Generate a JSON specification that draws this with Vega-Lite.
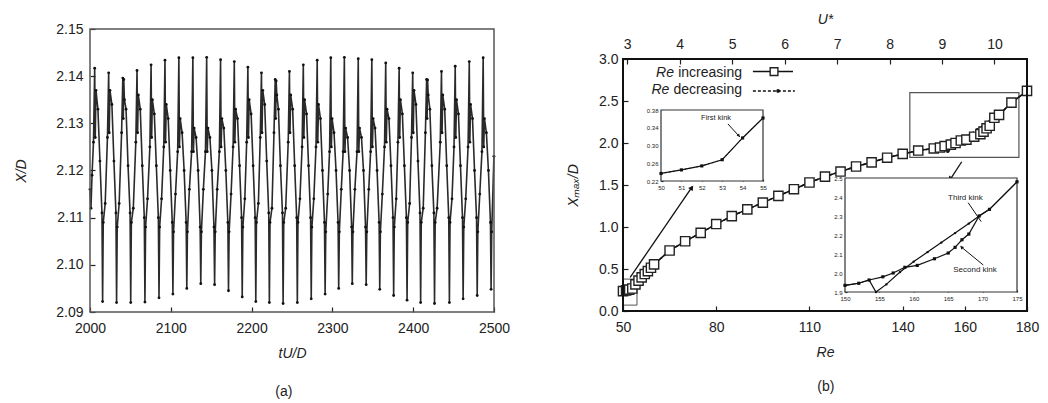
{
"$schema":"https://vega.github.io/schema/vega-lite/v6.json",
"width":1048,"height":403,"autosize":{"type":"none"},"padding":0,
"background":"white",
"config":{"view":{"stroke":null},"font":"Liberation Sans",
"axis":{"grid":false,"domain":false,"tickColor":"#222","labelColor":"#222","titleColor":"#222","labelFont":"Liberation Sans","titleFont":"Liberation Sans","labelFontSize":14,"titleFontSize":14,"titleFontWeight":"normal","tickWidth":1.2,"tickSize":-5,"labelFlush":false,"labelOverlap":false},
"text":{"font":"Liberation Sans","color":"#222"}},
"data":{"values":[{}]},
"datasets":{
"ts":[
{"t":2000.0,"x":2.116},{"t":2001.2,"x":2.112},{"t":2002.5,"x":2.119},{"t":2004.3,"x":2.126},
{"t":2005.8,"x":2.1417},{"t":2006.5,"x":2.127},{"t":2007.4,"x":2.137},{"t":2009.8,"x":2.133},{"t":2012.3,"x":2.122},{"t":2014.8,"x":2.111},{"t":2015.6,"x":2.0922},{"t":2016.4,"x":2.109},{"t":2018.8,"x":2.113},
{"t":2021.6,"x":2.127},{"t":2023.1,"x":2.1407},{"t":2023.8,"x":2.128},{"t":2024.7,"x":2.137},{"t":2027.1,"x":2.134},{"t":2029.6,"x":2.122},{"t":2032.1,"x":2.111},{"t":2032.9,"x":2.0920},{"t":2033.7,"x":2.108},{"t":2036.1,"x":2.113},
{"t":2039.1,"x":2.128},{"t":2040.6,"x":2.1396},{"t":2041.2,"x":2.131},{"t":2041.8,"x":2.1393},{"t":2042.6,"x":2.135},{"t":2044.6,"x":2.133},{"t":2047.1,"x":2.121},{"t":2049.6,"x":2.111},{"t":2050.4,"x":2.0920},{"t":2051.2,"x":2.109},{"t":2053.6,"x":2.112},
{"t":2056.7,"x":2.126},{"t":2058.2,"x":2.1412},{"t":2058.9,"x":2.128},{"t":2059.8,"x":2.136},{"t":2062.2,"x":2.133},{"t":2064.7,"x":2.121},{"t":2067.2,"x":2.110},{"t":2068.0,"x":2.0921},{"t":2068.8,"x":2.108},{"t":2071.2,"x":2.114},
{"t":2074.1,"x":2.125},{"t":2075.6,"x":2.1424},{"t":2076.3,"x":2.127},{"t":2077.2,"x":2.135},{"t":2079.6,"x":2.132},{"t":2082.1,"x":2.121},{"t":2084.6,"x":2.110},{"t":2085.4,"x":2.0930},{"t":2086.2,"x":2.108},{"t":2088.6,"x":2.114},
{"t":2091.3,"x":2.125},{"t":2092.8,"x":2.1434},{"t":2093.5,"x":2.126},{"t":2094.4,"x":2.134},{"t":2096.8,"x":2.131},{"t":2099.3,"x":2.120},{"t":2101.8,"x":2.109},{"t":2102.6,"x":2.0938},{"t":2103.4,"x":2.107},{"t":2105.8,"x":2.115},
{"t":2108.5,"x":2.124},{"t":2110.0,"x":2.1439},{"t":2110.7,"x":2.125},{"t":2111.6,"x":2.131},{"t":2114.0,"x":2.128},{"t":2116.5,"x":2.120},{"t":2119.0,"x":2.109},{"t":2119.8,"x":2.0950},{"t":2120.6,"x":2.107},{"t":2123.0,"x":2.116},
{"t":2125.8,"x":2.124},{"t":2127.3,"x":2.1439},{"t":2128.0,"x":2.124},{"t":2128.9,"x":2.129},{"t":2131.3,"x":2.127},{"t":2133.8,"x":2.120},{"t":2136.3,"x":2.108},{"t":2137.1,"x":2.0960},{"t":2137.9,"x":2.107},{"t":2140.3,"x":2.116},
{"t":2142.9,"x":2.124},{"t":2144.4,"x":2.1440},{"t":2145.1,"x":2.124},{"t":2146.0,"x":2.129},{"t":2148.4,"x":2.127},{"t":2150.9,"x":2.120},{"t":2153.4,"x":2.108},{"t":2154.2,"x":2.0958},{"t":2155.0,"x":2.107},{"t":2157.4,"x":2.116},
{"t":2160.1,"x":2.124},{"t":2161.6,"x":2.1435},{"t":2162.3,"x":2.125},{"t":2163.2,"x":2.131},{"t":2165.6,"x":2.129},{"t":2168.1,"x":2.120},{"t":2170.6,"x":2.109},{"t":2171.4,"x":2.0945},{"t":2172.2,"x":2.107},{"t":2174.6,"x":2.115},
{"t":2177.1,"x":2.125},{"t":2178.6,"x":2.1431},{"t":2179.3,"x":2.126},{"t":2180.2,"x":2.133},{"t":2182.6,"x":2.131},{"t":2185.1,"x":2.121},{"t":2187.6,"x":2.110},{"t":2188.4,"x":2.0932},{"t":2189.2,"x":2.108},{"t":2191.6,"x":2.114},
{"t":2193.9,"x":2.126},{"t":2195.4,"x":2.1419},{"t":2196.1,"x":2.127},{"t":2197.0,"x":2.135},{"t":2199.4,"x":2.132},{"t":2201.9,"x":2.121},{"t":2204.4,"x":2.110},{"t":2205.2,"x":2.0922},{"t":2206.0,"x":2.109},{"t":2208.4,"x":2.113},
{"t":2210.7,"x":2.127},{"t":2212.2,"x":2.1407},{"t":2212.9,"x":2.128},{"t":2213.8,"x":2.137},{"t":2216.2,"x":2.134},{"t":2218.7,"x":2.122},{"t":2221.2,"x":2.111},{"t":2222.0,"x":2.0920},{"t":2222.8,"x":2.109},{"t":2225.2,"x":2.112},
{"t":2227.7,"x":2.128},{"t":2229.2,"x":2.1393},{"t":2229.8,"x":2.131},{"t":2230.4,"x":2.1390},{"t":2231.2,"x":2.136},{"t":2233.2,"x":2.133},{"t":2235.7,"x":2.121},{"t":2238.2,"x":2.111},{"t":2239.0,"x":2.0918},{"t":2239.8,"x":2.109},{"t":2242.2,"x":2.112},
{"t":2245.3,"x":2.126},{"t":2246.8,"x":2.1410},{"t":2247.5,"x":2.128},{"t":2248.4,"x":2.136},{"t":2250.8,"x":2.133},{"t":2253.3,"x":2.121},{"t":2255.8,"x":2.110},{"t":2256.6,"x":2.0920},{"t":2257.4,"x":2.109},{"t":2259.8,"x":2.114},
{"t":2262.5,"x":2.125},{"t":2264.0,"x":2.1424},{"t":2264.7,"x":2.127},{"t":2265.6,"x":2.135},{"t":2268.0,"x":2.132},{"t":2270.5,"x":2.121},{"t":2273.0,"x":2.110},{"t":2273.8,"x":2.0928},{"t":2274.6,"x":2.108},{"t":2277.0,"x":2.114},
{"t":2279.7,"x":2.125},{"t":2281.2,"x":2.1434},{"t":2281.9,"x":2.126},{"t":2282.8,"x":2.134},{"t":2285.2,"x":2.131},{"t":2287.7,"x":2.120},{"t":2290.2,"x":2.109},{"t":2291.0,"x":2.0938},{"t":2291.8,"x":2.107},{"t":2294.2,"x":2.115},
{"t":2296.5,"x":2.124},{"t":2298.0,"x":2.1439},{"t":2298.7,"x":2.125},{"t":2299.6,"x":2.131},{"t":2302.0,"x":2.128},{"t":2304.5,"x":2.120},{"t":2307.0,"x":2.109},{"t":2307.8,"x":2.0950},{"t":2308.6,"x":2.107},{"t":2311.0,"x":2.116},
{"t":2313.3,"x":2.124},{"t":2314.8,"x":2.1440},{"t":2315.5,"x":2.124},{"t":2316.4,"x":2.129},{"t":2318.8,"x":2.127},{"t":2321.3,"x":2.120},{"t":2323.8,"x":2.108},{"t":2324.6,"x":2.0960},{"t":2325.4,"x":2.107},{"t":2327.8,"x":2.116},
{"t":2330.5,"x":2.124},{"t":2332.0,"x":2.1437},{"t":2332.7,"x":2.124},{"t":2333.6,"x":2.129},{"t":2336.0,"x":2.127},{"t":2338.5,"x":2.120},{"t":2341.0,"x":2.108},{"t":2341.8,"x":2.0958},{"t":2342.6,"x":2.107},{"t":2345.0,"x":2.116},
{"t":2347.3,"x":2.124},{"t":2348.8,"x":2.1435},{"t":2349.5,"x":2.125},{"t":2350.4,"x":2.131},{"t":2352.8,"x":2.129},{"t":2355.3,"x":2.120},{"t":2357.8,"x":2.109},{"t":2358.6,"x":2.0948},{"t":2359.4,"x":2.107},{"t":2361.8,"x":2.115},
{"t":2364.5,"x":2.125},{"t":2366.0,"x":2.1428},{"t":2366.7,"x":2.126},{"t":2367.6,"x":2.133},{"t":2370.0,"x":2.131},{"t":2372.5,"x":2.121},{"t":2375.0,"x":2.110},{"t":2375.8,"x":2.0935},{"t":2376.6,"x":2.108},{"t":2379.0,"x":2.114},
{"t":2381.1,"x":2.126},{"t":2382.6,"x":2.1417},{"t":2383.3,"x":2.127},{"t":2384.2,"x":2.135},{"t":2386.6,"x":2.132},{"t":2389.1,"x":2.121},{"t":2391.6,"x":2.110},{"t":2392.4,"x":2.0925},{"t":2393.2,"x":2.109},{"t":2395.6,"x":2.113},
{"t":2397.9,"x":2.127},{"t":2399.4,"x":2.1407},{"t":2400.1,"x":2.128},{"t":2401.0,"x":2.137},{"t":2403.4,"x":2.134},{"t":2405.9,"x":2.122},{"t":2408.4,"x":2.111},{"t":2409.2,"x":2.0920},{"t":2410.0,"x":2.109},{"t":2412.4,"x":2.112},
{"t":2415.1,"x":2.128},{"t":2416.6,"x":2.1393},{"t":2417.2,"x":2.131},{"t":2417.8,"x":2.1392},{"t":2418.6,"x":2.136},{"t":2420.6,"x":2.133},{"t":2423.1,"x":2.121},{"t":2425.6,"x":2.111},{"t":2426.4,"x":2.0918},{"t":2427.2,"x":2.109},{"t":2429.6,"x":2.112},
{"t":2433.5,"x":2.126},{"t":2435.0,"x":2.1410},{"t":2435.7,"x":2.128},{"t":2436.6,"x":2.136},{"t":2439.0,"x":2.133},{"t":2441.5,"x":2.121},{"t":2444.0,"x":2.110},{"t":2444.8,"x":2.0920},{"t":2445.6,"x":2.109},{"t":2448.0,"x":2.114},
{"t":2450.5,"x":2.125},{"t":2452.0,"x":2.1421},{"t":2452.7,"x":2.127},{"t":2453.6,"x":2.135},{"t":2456.0,"x":2.132},{"t":2458.5,"x":2.121},{"t":2461.0,"x":2.110},{"t":2461.8,"x":2.0928},{"t":2462.6,"x":2.108},{"t":2465.0,"x":2.114},
{"t":2467.9,"x":2.125},{"t":2469.4,"x":2.1431},{"t":2470.1,"x":2.126},{"t":2471.0,"x":2.134},{"t":2473.4,"x":2.131},{"t":2475.9,"x":2.120},{"t":2478.4,"x":2.110},{"t":2479.2,"x":2.0935},{"t":2480.0,"x":2.107},{"t":2482.4,"x":2.115},
{"t":2485.1,"x":2.124},{"t":2486.6,"x":2.1439},{"t":2487.3,"x":2.125},{"t":2488.2,"x":2.131},{"t":2490.6,"x":2.128},{"t":2493.1,"x":2.120},{"t":2495.6,"x":2.109},{"t":2496.4,"x":2.0948},{"t":2497.2,"x":2.107},{"t":2499.9,"x":2.123}
],
"inc":[
{"Re":50,"X":0.237},{"Re":51,"X":0.245},{"Re":52,"X":0.254},{"Re":53,"X":0.268},{"Re":54,"X":0.317},{"Re":55,"X":0.362},{"Re":56,"X":0.40},{"Re":57,"X":0.44},{"Re":58,"X":0.475},{"Re":59,"X":0.515},{"Re":60,"X":0.555},
{"Re":65,"X":0.72},{"Re":70,"X":0.83},{"Re":75,"X":0.93},{"Re":80,"X":1.035},{"Re":85,"X":1.13},{"Re":90,"X":1.21},{"Re":95,"X":1.29},{"Re":100,"X":1.37},{"Re":105,"X":1.45},{"Re":110,"X":1.53},{"Re":115,"X":1.6},{"Re":120,"X":1.66},{"Re":125,"X":1.72},{"Re":130,"X":1.77},{"Re":135,"X":1.825},{"Re":140,"X":1.87},{"Re":145,"X":1.91},{"Re":150,"X":1.935},{"Re":152,"X":1.946},
{"Re":153.5,"X":1.963},{"Re":155.5,"X":1.98},{"Re":157,"X":2.0},{"Re":158.7,"X":2.03},{"Re":160.5,"X":2.04},{"Re":163,"X":2.075},{"Re":165,"X":2.105},{"Re":166,"X":2.135},{"Re":167,"X":2.175},{"Re":168,"X":2.205},{"Re":169.5,"X":2.3},{"Re":171,"X":2.335},{"Re":175,"X":2.48},{"Re":180,"X":2.62}
],
"dec":[
{"Re":50,"X":0.237},{"Re":51,"X":0.245},{"Re":52,"X":0.254},{"Re":53,"X":0.268},{"Re":54,"X":0.317},{"Re":55,"X":0.362},{"Re":56,"X":0.40},{"Re":57,"X":0.44},{"Re":58,"X":0.475},{"Re":59,"X":0.515},{"Re":60,"X":0.555},
{"Re":65,"X":0.72},{"Re":70,"X":0.83},{"Re":75,"X":0.93},{"Re":80,"X":1.035},{"Re":85,"X":1.13},{"Re":90,"X":1.21},{"Re":95,"X":1.29},{"Re":100,"X":1.37},{"Re":105,"X":1.45},{"Re":110,"X":1.53},{"Re":115,"X":1.6},{"Re":120,"X":1.66},{"Re":125,"X":1.72},{"Re":130,"X":1.77},{"Re":135,"X":1.825},{"Re":140,"X":1.87},{"Re":145,"X":1.91},{"Re":150,"X":1.935},{"Re":152,"X":1.946},
{"Re":153.5,"X":1.963},{"Re":154.5,"X":1.9},{"Re":156,"X":1.94},{"Re":158,"X":2.005},{"Re":160,"X":2.06},{"Re":162,"X":2.11},{"Re":164,"X":2.16},{"Re":166,"X":2.21},{"Re":168,"X":2.26},{"Re":169.5,"X":2.3},{"Re":171,"X":2.335},{"Re":175,"X":2.48},{"Re":180,"X":2.62}
]
},
"resolve":{"scale":{"x":"independent","y":"independent"},"axis":{"x":"independent","y":"independent"}},
"layer":[
{
"layer":[
{"data":{"name":"ts"},"mark":{"type":"line","color":"#2a2a2a","strokeWidth":1.6},
"encoding":{
"x":{"field":"t","type":"quantitative","scale":{"domain":[2000,2500],"range":[90,494],"nice":false,"zero":false},
"axis":{"orient":"bottom","offset":-91,"values":[2000,2100,2200,2300,2400,2500],"format":"d","title":"tU/D","titleFontStyle":"italic","labelPadding":14,"titlePadding":11}},
"y":{"field":"x","type":"quantitative","scale":{"domain":[2.09,2.15],"range":[312,29],"nice":false,"zero":false},
"axis":{"orient":"left","offset":-90,"values":[2.09,2.10,2.11,2.12,2.13,2.14,2.15],"format":".2f","title":"X/D","titleFontStyle":"italic","labelPadding":12,"titlePadding":27}}}},
{"data":{"name":"ts"},"mark":{"type":"point","filled":true,"size":8,"color":"#111","opacity":1},
"encoding":{"x":{"field":"t","type":"quantitative"},"y":{"field":"x","type":"quantitative"}}},
{"mark":{"type":"rect","fill":null,"stroke":"#555","strokeWidth":1.5},
"encoding":{"x":{"datum":2000},"x2":{"datum":2500},"y":{"datum":2.09},"y2":{"datum":2.15}}},
{"mark":{"type":"text","fontSize":14},"encoding":{"x":{"datum":2240},"y":{"datum":2.073},"text":{"value":"(a)"}}}
]
},
{
"layer":[
{"mark":{"type":"rect","fill":null,"stroke":"#555","strokeWidth":1},
"encoding":{"x":{"datum":50},"x2":{"datum":54.5},"y":{"datum":0.07},"y2":{"datum":0.38}}},
{"mark":{"type":"rect","fill":null,"stroke":"#555","strokeWidth":1.2},
"encoding":{"x":{"datum":142.3},"x2":{"datum":177.4},"y":{"datum":1.83},"y2":{"datum":2.6}}},
{"data":{"name":"inc"},"mark":{"type":"line","color":"#111","strokeWidth":1.5},
"encoding":{
"x":{"field":"Re","type":"quantitative","scale":{"domain":[50,180],"range":[623,1027],"nice":false,"zero":false},
"axis":{"orient":"bottom","offset":-92,"values":[50,80,110,140,160,180],"format":"d","title":"Re","titleFontStyle":"italic","labelPadding":14,"titlePadding":11}},
"y":{"field":"X","type":"quantitative","scale":{"domain":[0,3],"range":[311,59],"nice":false,"zero":false},
"axis":{"orient":"left","offset":-623,"values":[0,0.5,1,1.5,2,2.5,3],"format":".1f","title":"Xₘₐₓ/D","titleFontStyle":"italic","labelPadding":10,"titlePadding":18}}}},
{"data":{"name":"dec"},"mark":{"type":"line","color":"#111","strokeWidth":1.5,"strokeDash":[3,2]},
"encoding":{"x":{"field":"Re","type":"quantitative"},"y":{"field":"X","type":"quantitative"}}},
{"data":{"name":"dec"},"mark":{"type":"point","filled":true,"size":10,"color":"#111","opacity":1},
"encoding":{"x":{"field":"Re","type":"quantitative"},"y":{"field":"X","type":"quantitative"}}},
{"data":{"name":"inc"},"mark":{"type":"point","shape":"square","filled":false,"fill":"white","fillOpacity":1,"stroke":"#222","strokeWidth":1.4,"size":85,"opacity":1},
"encoding":{"x":{"field":"Re","type":"quantitative"},"y":{"field":"X","type":"quantitative"}}},
{"mark":{"type":"rule","color":"#111","strokeWidth":1.3},
"encoding":{"x":{"datum":52.3},"y":{"datum":0.40},"x2":{"datum":72.3},"y2":{"datum":1.48}}},
{"mark":{"type":"point","shape":"triangle","filled":true,"size":30,"angle":35,"color":"#111","opacity":1},
"encoding":{"x":{"datum":72.0},"y":{"datum":1.46}}},
{"mark":{"type":"rule","color":"#111","strokeWidth":1.3},
"encoding":{"x":{"datum":159},"y":{"datum":1.777},"x2":{"datum":155.2},"y2":{"datum":1.56}}},
{"mark":{"type":"point","shape":"triangle","filled":true,"size":30,"angle":213,"color":"#111","opacity":1},
"encoding":{"x":{"datum":155.4},"y":{"datum":1.58}}},
{"mark":{"type":"rect","fill":null,"stroke":"#111","strokeWidth":2},
"encoding":{"x":{"datum":50},"x2":{"datum":180},"y":{"datum":0},"y2":{"datum":3}}},
{"mark":{"type":"text","fontSize":14,"fontStyle":"italic","align":"right","baseline":"middle"},
"encoding":{"x":{"datum":66.4},"y":{"datum":2.83},"text":{"value":"Re"}}},
{"mark":{"type":"text","fontSize":14,"align":"right","baseline":"middle"},
"encoding":{"x":{"datum":88.3},"y":{"datum":2.83},"text":{"value":"increasing"}}},
{"mark":{"type":"text","fontSize":14,"fontStyle":"italic","align":"right","baseline":"middle"},
"encoding":{"x":{"datum":64.9},"y":{"datum":2.63},"text":{"value":"Re"}}},
{"mark":{"type":"text","fontSize":14,"align":"right","baseline":"middle"},
"encoding":{"x":{"datum":88.3},"y":{"datum":2.63},"text":{"value":"decreasing"}}},
{"mark":{"type":"rule","color":"#111","strokeWidth":1.5},
"encoding":{"x":{"datum":91.8},"x2":{"datum":104.7},"y":{"datum":2.85}}},
{"mark":{"type":"point","shape":"square","filled":false,"fill":"white","fillOpacity":1,"stroke":"#222","strokeWidth":1.4,"size":60,"opacity":1},
"encoding":{"x":{"datum":98.6},"y":{"datum":2.85}}},
{"mark":{"type":"rule","color":"#111","strokeWidth":1.5,"strokeDash":[3,2]},
"encoding":{"x":{"datum":91.8},"x2":{"datum":105.3},"y":{"datum":2.62}}},
{"mark":{"type":"point","filled":true,"size":14,"color":"#111","opacity":1},
"encoding":{"x":{"datum":99.9},"y":{"datum":2.62}}},
{"mark":{"type":"text","fontSize":14},"encoding":{"x":{"datum":115.3},"y":{"datum":-0.905},"text":{"value":"(b)"}}}
]
},
{"mark":{"type":"point","opacity":0},
"encoding":{"x":{"datum":3,"type":"quantitative","scale":{"domain":[2.92,10.62],"range":[623,1027],"nice":false,"zero":false},
"axis":{"orient":"top","offset":-59,"values":[3,4,5,6,7,8,9,10],"format":"d","title":"U*","titleFontStyle":"italic","labelPadding":13,"titlePadding":11}}}},
{
"layer":[
{"mark":{"type":"rect","fill":"white","stroke":"#333","strokeWidth":1.2},
"encoding":{"x":{"datum":50},"x2":{"datum":55},"y":{"datum":0.22},"y2":{"datum":0.38}}},
{"data":{"name":"inc"},"transform":[{"filter":"datum.Re <= 55"}],"mark":{"type":"line","color":"#111","strokeWidth":1.2},
"encoding":{
"x":{"field":"Re","type":"quantitative","scale":{"domain":[50,55],"range":[661,763],"nice":false,"zero":false},
"axis":{"orient":"bottom","offset":-222,"values":[50,51,52,53,54,55],"format":"d","title":null,"labelFontSize":6,"tickSize":-2,"labelPadding":5}},
"y":{"field":"X","type":"quantitative","scale":{"domain":[0.22,0.38],"range":[181,110],"nice":false,"zero":false},
"axis":{"orient":"left","offset":-661,"values":[0.22,0.26,0.30,0.34,0.38],"format":".2f","title":null,"labelFontSize":6,"tickSize":-2,"labelPadding":5}}}},
{"data":{"name":"dec"},"transform":[{"filter":"datum.Re <= 55"}],"mark":{"type":"line","color":"#111","strokeWidth":1,"strokeDash":[2,2]},
"encoding":{"x":{"field":"Re","type":"quantitative"},"y":{"field":"X","type":"quantitative"}}},
{"data":{"name":"inc"},"transform":[{"filter":"datum.Re <= 55"}],"mark":{"type":"point","shape":"square","filled":true,"size":10,"color":"#111","opacity":1},
"encoding":{"x":{"field":"Re","type":"quantitative"},"y":{"field":"X","type":"quantitative"}}},
{"mark":{"type":"text","fontSize":7.5},"encoding":{"x":{"datum":52.7},"y":{"datum":0.362},"text":{"value":"First kink"}}},
{"mark":{"type":"rule","color":"#111","strokeWidth":1},
"encoding":{"x":{"datum":53.28},"y":{"datum":0.3486},"x2":{"datum":53.87},"y2":{"datum":0.319}}},
{"mark":{"type":"point","shape":"triangle","filled":true,"size":12,"angle":137,"color":"#111","opacity":1},
"encoding":{"x":{"datum":53.8},"y":{"datum":0.323}}}
]
},
{
"layer":[
{"mark":{"type":"rect","fill":"white","stroke":"#333","strokeWidth":1.2},
"encoding":{"x":{"datum":150},"x2":{"datum":175},"y":{"datum":1.9},"y2":{"datum":2.5}}},
{"data":{"name":"inc"},"transform":[{"filter":"datum.Re >= 150 && datum.Re <= 175"}],"mark":{"type":"line","color":"#111","strokeWidth":1.2},
"encoding":{
"x":{"field":"Re","type":"quantitative","scale":{"domain":[150,175],"range":[845,1017],"nice":false,"zero":false},
"axis":{"orient":"bottom","offset":-111,"values":[150,155,160,165,170,175],"format":"d","title":null,"labelFontSize":6,"tickSize":-2,"labelPadding":5}},
"y":{"field":"X","type":"quantitative","scale":{"domain":[1.9,2.5],"range":[292,178],"nice":false,"zero":false},
"axis":{"orient":"left","offset":-845,"values":[1.9,2.0,2.1,2.2,2.3,2.4,2.5],"format":".1f","title":null,"labelFontSize":6,"tickSize":-2,"labelPadding":5}}}},
{"data":{"name":"dec"},"transform":[{"filter":"datum.Re >= 150 && datum.Re <= 175"}],"mark":{"type":"line","color":"#111","strokeWidth":1.2},
"encoding":{"x":{"field":"Re","type":"quantitative"},"y":{"field":"X","type":"quantitative"}}},
{"data":{"name":"inc"},"transform":[{"filter":"datum.Re >= 150 && datum.Re <= 175"}],"mark":{"type":"point","shape":"square","filled":true,"size":10,"color":"#111","opacity":1},
"encoding":{"x":{"field":"Re","type":"quantitative"},"y":{"field":"X","type":"quantitative"}}},
{"data":{"name":"dec"},"transform":[{"filter":"datum.Re >= 150 && datum.Re <= 175"}],"mark":{"type":"point","filled":true,"size":6,"color":"#111","opacity":1},
"encoding":{"x":{"field":"Re","type":"quantitative"},"y":{"field":"X","type":"quantitative"}}},
{"mark":{"type":"text","fontSize":8},"encoding":{"x":{"datum":167.5},"y":{"datum":2.393},"text":{"value":"Third kink"}}},
{"mark":{"type":"text","fontSize":8},"encoding":{"x":{"datum":168.9},"y":{"datum":2.016},"text":{"value":"Second kink"}}},
{"mark":{"type":"rule","color":"#111","strokeWidth":1},
"encoding":{"x":{"datum":167.9},"y":{"datum":2.37},"x2":{"datum":169.8},"y2":{"datum":2.27}}},
{"mark":{"type":"rule","color":"#111","strokeWidth":1},
"encoding":{"x":{"datum":170.1},"y":{"datum":2.042},"x2":{"datum":166.8},"y2":{"datum":2.14}}},
{"mark":{"type":"point","shape":"triangle","filled":true,"size":14,"angle":315,"color":"#111","opacity":1},
"encoding":{"x":{"datum":167.0},"y":{"datum":2.134}}}
]
}
]
}
